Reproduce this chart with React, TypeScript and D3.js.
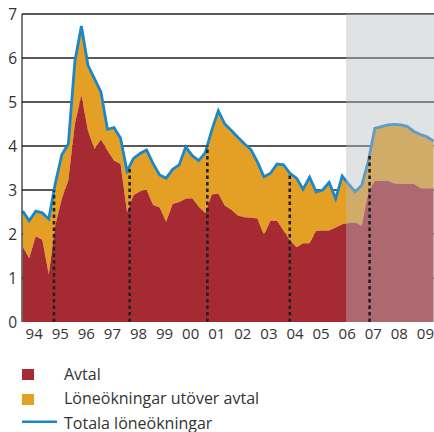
import React, { useRef, useEffect } from 'react';
import * as d3 from 'd3';

// quarterly values, 1994 Q1 - 2009 Q4
const avtal = [
  1.71, 1.45, 1.95, 1.87, 1.08, 2.2, 2.8, 3.22, 4.5, 5.16, 4.35, 3.93, 4.15, 3.9, 3.67, 3.59,
  2.5, 2.88, 2.97, 3.0, 2.66, 2.6, 2.28, 2.68, 2.73, 2.8, 2.81, 2.62, 2.48, 2.9, 2.92, 2.64,
  2.55, 2.42, 2.38, 2.37, 2.35, 1.98, 2.3, 2.3, 2.08, 1.85, 1.7, 1.79, 1.79, 2.07, 2.08, 2.08,
  2.15, 2.22, 2.25, 2.26, 2.19, 2.95, 3.21, 3.21, 3.21, 3.15, 3.14, 3.14, 3.14, 3.04, 3.04, 3.04,
];
const totala = [
  2.52, 2.3, 2.52, 2.48, 2.34, 3.15, 3.8, 4.05, 5.92, 6.73, 5.84, 5.53, 5.23, 4.38, 4.42, 4.18,
  3.43, 3.72, 3.83, 3.91, 3.6, 3.34, 3.27, 3.47, 3.57, 3.98, 3.78, 3.67, 3.85, 4.36, 4.8, 4.5,
  4.35, 4.2, 4.05, 3.92, 3.64, 3.3, 3.38, 3.59, 3.57, 3.38, 3.27, 3.02, 3.29, 2.96, 3.0, 3.17,
  2.8, 3.32, 3.13, 2.96, 3.11, 3.65, 4.4, 4.44, 4.48, 4.49, 4.48, 4.44, 4.33, 4.26, 4.21, 4.11,
];
const yearLabels = ['94', '95', '96', '97', '98', '99', '00', '01', '02', '03', '04', '05', '06', '07', '08', '09'];
const yTicks = [0, 1, 2, 3, 4, 5, 6, 7];
// start of new wage agreements (avtalsperioder)
const agreementStarts = [1995.2, 1998.1, 2001.08, 2004.24, 2007.3];
const forecastStart = 2006.4;
const legendItems = ['Avtal', 'Löneökningar utöver avtal', 'Totala löneökningar'];

const RED = '#a52a32';
const ORANGE = '#e3a025';
const BLUE = '#1a87c9';
const FONT = "'Open Sans', sans-serif";

const App = () => {
  const ref = useRef(null);

  useEffect(() => {
    const width = 434;
    const height = 432;
    d3.select(ref.current).selectAll('*').remove();

    const svg = d3
      .select(ref.current)
      .append('svg')
      .attr('width', width)
      .attr('height', height)
      .style('position', 'absolute')
      .style('left', 0)
      .style('top', 0);

    const x = d3.scaleLinear().domain([1994, 2010]).range([22.7, 440]);
    const y = d3.scaleLinear().domain([0, 7]).range([322, 14]);
    const left = 22;
    const right = width;

    const rows = avtal.map((a, i) => ({ t: 1994 + i / 4, a, tot: totala[i] }));

    // gridlines
    svg
      .append('g')
      .selectAll('line')
      .data(yTicks.filter((d) => d > 0))
      .join('line')
      .attr('x1', left)
      .attr('x2', right)
      .attr('y1', (d) => y(d))
      .attr('y2', (d) => y(d))
      .attr('stroke', '#222')
      .attr('stroke-width', 1.5);

    svg
      .append('path')
      .datum(rows)
      .attr('fill', ORANGE)
      .attr(
        'd',
        d3
          .area()
          .x((d) => x(d.t))
          .y0((d) => y(d.a))
          .y1((d) => y(d.tot))
      );

    svg
      .append('path')
      .datum(rows)
      .attr('fill', RED)
      .attr(
        'd',
        d3
          .area()
          .x((d) => x(d.t))
          .y0(y(0))
          .y1((d) => y(d.a))
      );

    svg
      .append('path')
      .datum(rows)
      .attr('fill', 'none')
      .attr('stroke', BLUE)
      .attr('stroke-width', 2.8)
      .attr(
        'd',
        d3
          .line()
          .x((d) => x(d.t))
          .y((d) => y(d.tot))
      );

    // forecast overlay
    svg
      .append('rect')
      .attr('x', x(forecastStart))
      .attr('y', y(7))
      .attr('width', right - x(forecastStart))
      .attr('height', y(0) - y(7))
      .attr('fill', 'rgb(186,188,192)')
      .attr('fill-opacity', 0.43);

    // agreement markers
    const totalAt = (t) => {
      const k = (t - 1994) * 4;
      const i = Math.floor(k);
      return totala[i] + (totala[i + 1] - totala[i]) * (k - i);
    };
    svg
      .append('g')
      .selectAll('line')
      .data(agreementStarts)
      .join('line')
      .attr('x1', (d) => x(d))
      .attr('x2', (d) => x(d))
      .attr('y1', y(0))
      .attr('y2', (d) => y(totalAt(d)))
      .attr('stroke', '#222')
      .attr('stroke-width', 2.6)
      .attr('stroke-dasharray', '3.5,3');

    // left axis
    svg
      .append('line')
      .attr('x1', left)
      .attr('x2', left)
      .attr('y1', y(7))
      .attr('y2', y(0))
      .attr('stroke', '#222')
      .attr('stroke-width', 1.2);

    svg
      .append('g')
      .selectAll('text')
      .data(yTicks)
      .join('text')
      .attr('x', 17)
      .attr('y', (d) => y(d) + 5.5)
      .attr('text-anchor', 'end')
      .attr('font-family', FONT)
      .attr('font-size', 15.5)
      .attr('fill', '#333')
      .text((d) => d);

    svg
      .append('g')
      .selectAll('text')
      .data(yearLabels)
      .join('text')
      .attr('x', (d, i) => x(1994 + i + 0.44))
      .attr('y', 338.5)
      .attr('text-anchor', 'middle')
      .attr('font-family', FONT)
      .attr('font-size', 15)
      .attr('fill', '#333')
      .text((d) => d);

    // legend
    const lg = svg.append('g');
    lg.append('rect').attr('x', 22).attr('y', 369).attr('width', 12).attr('height', 11).attr('fill', RED);
    lg.append('rect').attr('x', 22).attr('y', 394).attr('width', 12).attr('height', 11).attr('fill', ORANGE);
    lg.append('line')
      .attr('x1', 22)
      .attr('x2', 57)
      .attr('y1', 421.7)
      .attr('y2', 421.7)
      .attr('stroke', BLUE)
      .attr('stroke-width', 2.5);
    lg.selectAll('text')
      .data(legendItems)
      .join('text')
      .attr('x', 64)
      .attr('y', (d, i) => 379.5 + i * 24.5)
      .attr('font-family', FONT)
      .attr('font-size', 16)
      .attr('fill', '#333')
      .text((d) => d);
  }, []);

  return <div ref={ref}></div>;
};

export default App;
